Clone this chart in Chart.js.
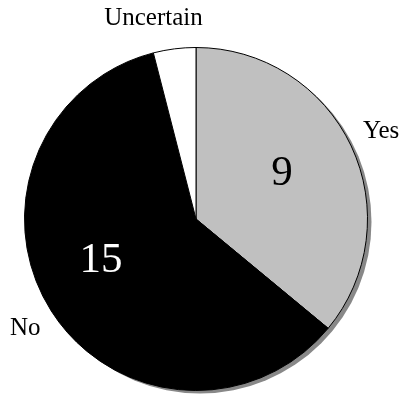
<!DOCTYPE html>
<html>
<head>
<meta charset="utf-8">
<script src="https://cdn.jsdelivr.net/npm/chart.js@4/dist/chart.umd.min.js"></script>
<style>
  body { margin: 0; background: #fff; }
  #wrap { width: 399px; height: 395px; }
</style>
</head>
<body>
<div id="wrap"><canvas id="pieChart" width="399" height="395"></canvas></div>
<script>
const categories = ["Yes", "No", "Uncertain"];
const answers = [9, 15, 1];
const sliceColors = ["#c0c0c0", "#000000", "#ffffff"];
const showValue = [true, true, false];

// grey drop shadow behind the pie
const shadowPlugin = {
  id: "shadow",
  beforeDatasetsDraw(chart) {
    const arc = chart.getDatasetMeta(0).data[0];
    if (!arc) return;
    const ctx = chart.ctx;
    ctx.save();
    ctx.fillStyle = "#888888";
    ctx.beginPath();
    ctx.arc(arc.x + 4, arc.y + 3, arc.outerRadius, 0, Math.PI * 2);
    ctx.fill();
    ctx.restore();
  }
};

// category names outside, values inside (small hand nudges like the original)
const nameNudge = [[1, -1], [1, 0], [-17, 1]];
const valueNudge = [[-4, -3], [-11, -12], [0, 0]];

const labelPlugin = {
  id: "labels",
  afterDatasetsDraw(chart) {
    const ctx = chart.ctx;
    const arcs = chart.getDatasetMeta(0).data;
    ctx.save();
    ctx.textAlign = "center";
    ctx.textBaseline = "middle";
    arcs.forEach((arc, i) => {
      const mid = (arc.startAngle + arc.endAngle) / 2;
      const r = arc.outerRadius;
      ctx.font = "25px 'Liberation Serif', 'Times New Roman', serif";
      ctx.fillStyle = "#000";
      ctx.fillText(categories[i],
        arc.x + Math.cos(mid) * (r + 32) + nameNudge[i][0],
        arc.y + Math.sin(mid) * (r + 32) + nameNudge[i][1]);
      if (showValue[i]) {
        ctx.font = "43px 'Liberation Serif', 'Times New Roman', serif";
        ctx.fillStyle = sliceColors[i] === "#000000" ? "#fff" : "#000";
        ctx.fillText(String(answers[i]),
          arc.x + Math.cos(mid) * r * 0.58 + valueNudge[i][0],
          arc.y + Math.sin(mid) * r * 0.58 + valueNudge[i][1]);
      }
    });
    ctx.restore();
  }
};

new Chart(document.getElementById("pieChart"), {
  type: "pie",
  data: {
    labels: categories,
    datasets: [{
      data: answers,
      backgroundColor: sliceColors,
      borderColor: "#000",
      borderWidth: 1
    }]
  },
  options: {
    responsive: false,
    animation: false,
    layout: { padding: { top: 47, bottom: 4, left: 0, right: 7 } },
    plugins: {
      legend: { display: false },
      tooltip: { enabled: false }
    }
  },
  plugins: [shadowPlugin, labelPlugin]
});
</script>
</body>
</html>
